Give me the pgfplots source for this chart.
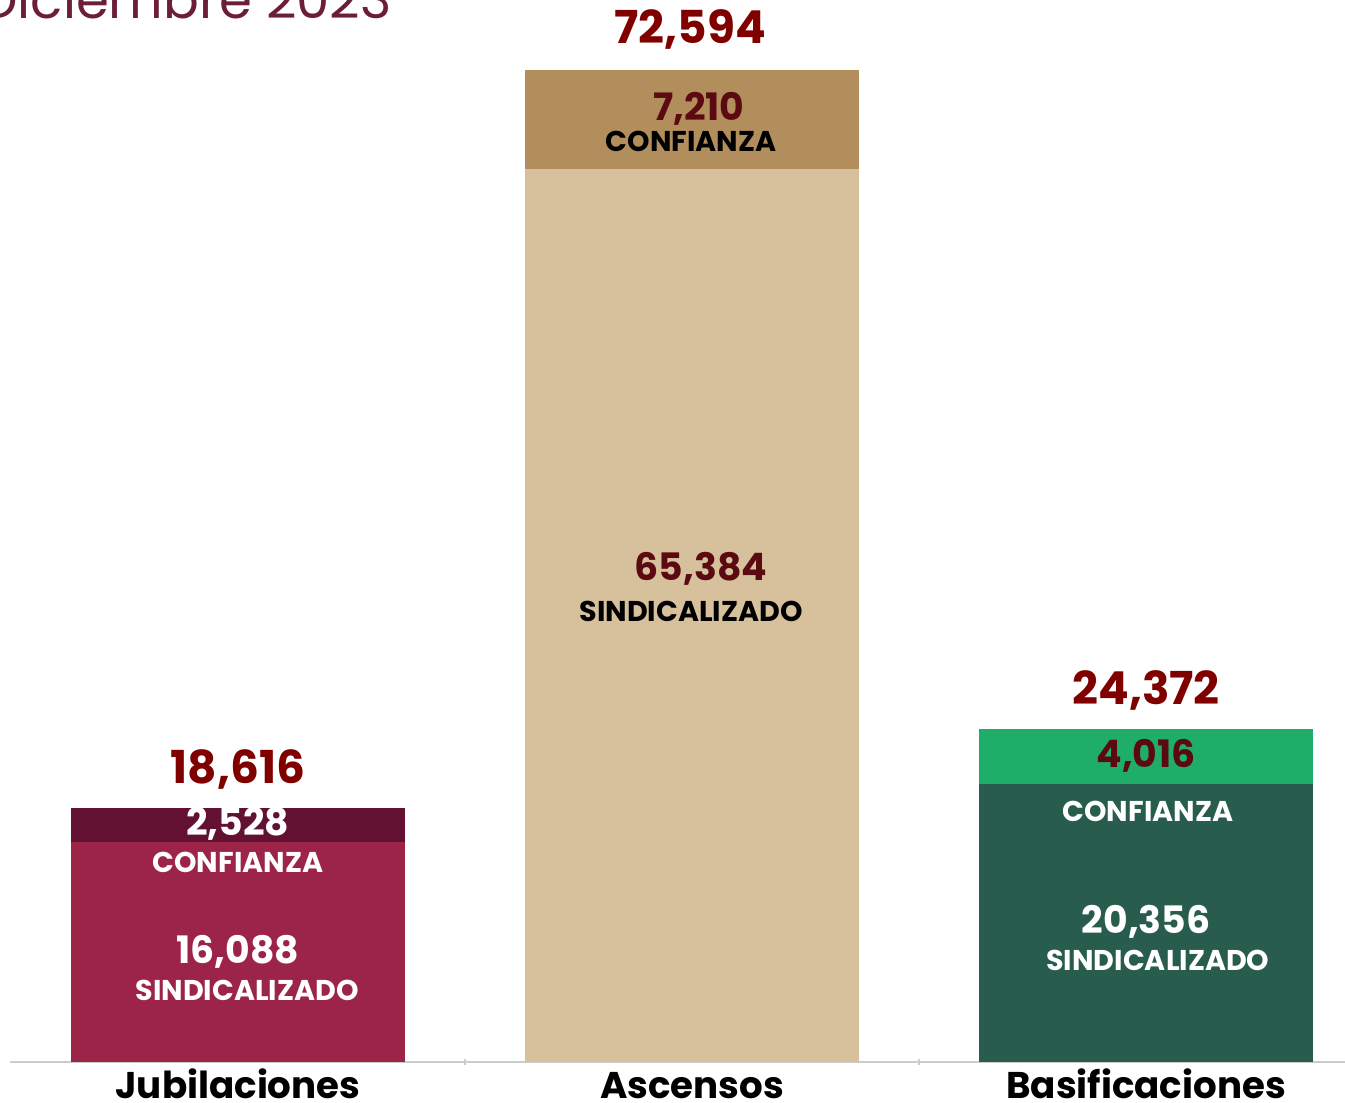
\documentclass[border=0pt]{standalone}
\usepackage{pgfplots}
\pgfplotsset{compat=1.18}
\usepackage{fontspec}
\setmainfont{Poppins}
\setsansfont{Poppins}
\definecolor{jubS}{HTML}{9D2449}
\definecolor{jubC}{HTML}{621132}
\definecolor{ascS}{HTML}{D6C19C}
\definecolor{ascC}{HTML}{B38E5D}
\definecolor{basS}{HTML}{285C4D}
\definecolor{basC}{HTML}{1FAE6A}
\definecolor{totred}{HTML}{800000}
\definecolor{inred}{HTML}{5C0A12}
\definecolor{titlec}{HTML}{6B1E35}
\newcommand{\tot}{\fontsize{22.7}{24}\selectfont\bfseries}
\newcommand{\val}{\fontsize{18.9}{20}\selectfont\bfseries}
\newcommand{\wrd}{\fontsize{14.3}{16}\selectfont\bfseries}
\begin{document}
\begin{tikzpicture}[x=1pt,y=1pt]
\useasboundingbox[fill=white] (-5,-20.5) rectangle (667.5,531);
\begin{axis}[
  at={(0,0)}, anchor=south west,
  scale only axis, width=667.5pt, height=531pt,
  xmin=-0.502, xmax=2.438, ymin=0, ymax=77716,
  ybar stacked, bar width=167pt,
  axis x line=bottom, axis y line=none,
  axis line style={draw=gray!40, line width=1pt, -},
  xtick={0,1,2},
  xticklabels={Jubilaciones, Ascensos, Basificaciones},
  major tick length=0pt,
  extra x ticks={0.5,1.5},
  extra x tick labels={},
  extra x tick style={major tick length=3pt, tick style={draw=gray!40, line width=1pt}},
  xticklabel style={font=\fontsize{18.6}{20}\selectfont\bfseries, anchor=base, inner sep=0pt, yshift=-18.5pt},
  ytick=\empty,
  clip=false,
]
\addplot[fill=jubS, draw=none] coordinates {(0,16088) (1,0) (2,0)};
\addplot[fill=ascS, draw=none] coordinates {(0,0) (1,65384) (2,0)};
\addplot[fill=basS, draw=none] coordinates {(0,0) (1,0) (2,20356)};
\addplot[fill=jubC, draw=none] coordinates {(0,2528) (1,0) (2,0)};
\addplot[fill=ascC, draw=none] coordinates {(0,0) (1,7210) (2,0)};
\addplot[fill=basC, draw=none] coordinates {(0,0) (1,0) (2,4016)};
% label anchors
\coordinate (a1) at (axis cs:0,21369);
\coordinate (a2) at (axis cs:0,17417);
\coordinate (a3) at (axis cs:0,14636);
\coordinate (a4) at (axis cs:0,8050);
\coordinate (a5) at (axis cs:0.02,5269);
\coordinate (b1) at (axis cs:0.996,75522);
\coordinate (b2) at (axis cs:1.015,69741);
\coordinate (b3) at (axis cs:0.998,67399);
\coordinate (b4) at (axis cs:1.02,36078);
\coordinate (b5) at (axis cs:0.998,33004);
\coordinate (c1) at (axis cs:2,27223);
\coordinate (c2) at (axis cs:2,22393);
\coordinate (c3) at (axis cs:2.004,18368);
\coordinate (c4) at (axis cs:2,10245);
\coordinate (c5) at (axis cs:2.026,7464);
\end{axis}
\node[text=totred, font=\tot] at (a1) {18,616};
\node[text=white, font=\val] at (a2) {2,528};
\node[text=white, font=\wrd] at (a3) {CONFIANZA};
\node[text=white, font=\val] at (a4) {16,088};
\node[text=white, font=\wrd] at (a5) {SINDICALIZADO};
\node[text=totred, font=\tot] at (b1) {72,594};
\node[text=inred, font=\val] at (b2) {7,210};
\node[text=black, font=\wrd] at (b3) {CONFIANZA};
\node[text=inred, font=\val] at (b4) {65,384};
\node[text=black, font=\wrd] at (b5) {SINDICALIZADO};
\node[text=totred, font=\tot] at (c1) {24,372};
\node[text=inred, font=\val] at (c2) {4,016};
\node[text=white, font=\wrd] at (c3) {CONFIANZA};
\node[text=white, font=\val] at (c4) {20,356};
\node[text=white, font=\wrd] at (c5) {SINDICALIZADO};
\node[anchor=base east, text=titlec, font=\fontsize{26.5}{28}\selectfont, inner sep=0pt] at (191,521.5) {Diciembre 2023};
\end{tikzpicture}
\end{document}
